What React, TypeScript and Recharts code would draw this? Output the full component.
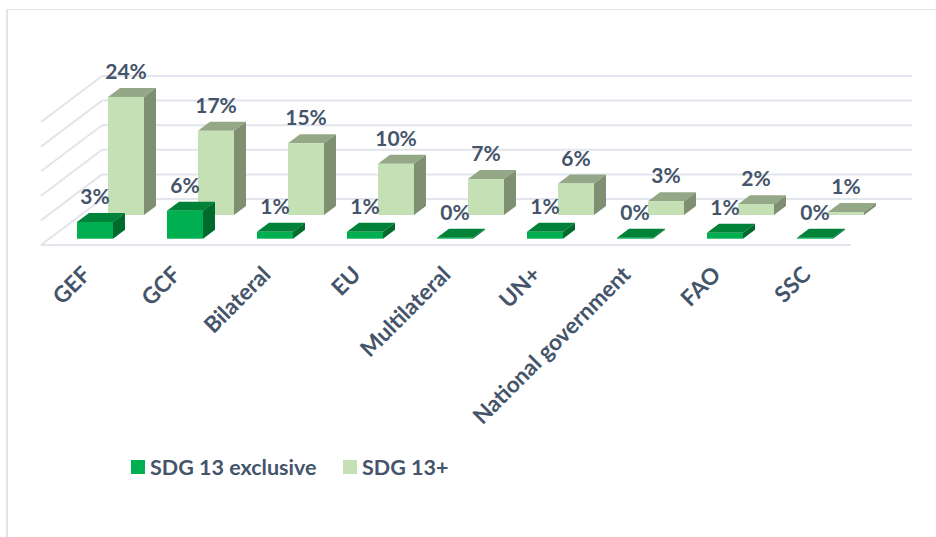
import { BarChart, Bar, XAxis, YAxis, CartesianGrid, Legend, LabelList } from 'recharts';

const CATEGORIES = ['GEF', 'GCF', 'Bilateral', 'EU', 'Multilateral', 'UN+', 'National government', 'FAO', 'SSC'];
const EXCLUSIVE = [3.4, 5.7, 1.4, 1.4, 0.2, 1.4, 0.2, 1.2, 0.2];
const PLUS = [24, 17.1, 14.6, 10.4, 7.3, 6.4, 2.8, 2.2, 0.6];
const Y_TICKS = [0, 5, 10, 15, 20, 25];

const TEXT_COLOR = '#44546A';
const GRID_COLOR = '#E2E5EB';
const FONT = 'Lato, sans-serif';

// 3D look: how far the floor recedes, and each row's place on that floor
const DEPTH = { dx: 61, dy: -46 };
const CAP = { dx: 12, dy: -9 };
const ROW_EXCLUSIVE = { dx: 9, dy: -6.3 };
const ROW_PLUS = { dx: 40, dy: -30 };

const data = CATEGORIES.map((name, i) => ({ name, exclusive: EXCLUSIVE[i], plus: PLUS[i] }));

function box3d(row: { dx: number; dy: number }, front: string, top: string, side: string) {
  return (props: any) => {
    const x = props.x + row.dx;
    const y = props.y + row.dy;
    const w = props.width;
    const h = props.height;
    const { dx, dy } = CAP;
    return (
      <g>
        <polygon points={`${x},${y} ${x + dx},${y + dy} ${x + w + dx},${y + dy} ${x + w},${y}`} fill={top} />
        <polygon points={`${x + w},${y} ${x + w + dx},${y + dy} ${x + w + dx},${y + h + dy} ${x + w},${y + h}`} fill={side} />
        <rect x={x} y={y} width={w} height={h} fill={front} />
      </g>
    );
  };
}

function valueLabel(row: { dx: number; dy: number }) {
  return (props: any) => (
    <text
      x={props.x + props.width / 2 + row.dx}
      y={props.y + row.dy - 18}
      textAnchor="middle"
      fontFamily={FONT}
      fontWeight={700}
      fontSize={21}
      fill={TEXT_COLOR}
    >
      {`${Math.round(props.value)}%`}
    </text>
  );
}

function GridLine(props: any) {
  const { x1, x2, y1 } = props;
  const backY = y1 + DEPTH.dy;
  return (
    <g stroke={GRID_COLOR} strokeWidth={2} fill="none">
      <line x1={x1} y1={y1} x2={x1 + DEPTH.dx} y2={backY} />
      <line x1={x1 + DEPTH.dx} y1={backY} x2={x2 + DEPTH.dx} y2={backY} />
      {y1 > 240 && <line x1={x1} y1={y1} x2={x2} y2={y1} />}
    </g>
  );
}

function CategoryTick({ x, y, payload }: any) {
  return (
    <text
      x={x + 6}
      y={y + 23}
      transform={`rotate(-45 ${x + 6} ${y + 23})`}
      textAnchor="end"
      fontFamily={FONT}
      fontWeight={700}
      fontSize={22.5}
      fill={TEXT_COLOR}
    >
      {payload.value}
    </text>
  );
}

const legendItems = [
  { name: 'SDG 13 exclusive', color: '#00B050', width: 212 },
  { name: 'SDG 13+', color: '#C5E0B4', width: 120 },
];

function ChartLegend() {
  return (
    <div style={{ display: 'flex', fontFamily: FONT, fontWeight: 700, fontSize: 21.5, color: TEXT_COLOR, whiteSpace: 'nowrap' }}>
      {legendItems.map((item) => (
        <div key={item.name} style={{ display: 'flex', alignItems: 'center', width: item.width }}>
          <span style={{ width: 14, height: 14, background: item.color, marginRight: 5 }} />
          <span>{item.name}</span>
        </div>
      ))}
    </div>
  );
}

export default function App() {
  return (
    <div style={{ position: 'absolute', left: 0, top: 0, width: 936, height: 537, background: '#fff', overflow: 'hidden' }}>
      <div
        style={{
          position: 'absolute',
          left: 6,
          top: 9,
          width: 930,
          height: 528,
          boxSizing: 'border-box',
          borderLeft: '2px solid #E0E5E9',
          borderTop: '1px solid #E4E7EC',
        }}
      />
      <BarChart
        width={936}
        height={537}
        data={data}
        barSize={36}
        barGap={-36}
        margin={{ top: 122, right: 85, bottom: 92, left: 41 }}
        style={{ position: 'absolute', left: 0, top: 0 }}
      >
        <CartesianGrid vertical={false} horizontal={GridLine} />
        <XAxis dataKey="name" interval={0} height={200} axisLine={false} tickLine={false} tick={CategoryTick} />
        <YAxis hide domain={[0, 25]} ticks={Y_TICKS} />
        <Legend
          verticalAlign="middle"
          content={ChartLegend}
          wrapperStyle={{ left: 131, top: 454, width: 400 }}
        />
        <Bar
          dataKey="plus"
          name="SDG 13+"
          isAnimationActive={false}
          shape={box3d(ROW_PLUS, '#C5E0B4', '#94A888', '#7F8F72')}
        >
          <LabelList dataKey="plus" content={valueLabel(ROW_PLUS)} />
        </Bar>
        <Bar
          dataKey="exclusive"
          name="SDG 13 exclusive"
          isAnimationActive={false}
          shape={box3d(ROW_EXCLUSIVE, '#00B050', '#008238', '#006B2D')}
        >
          <LabelList dataKey="exclusive" content={valueLabel(ROW_EXCLUSIVE)} />
        </Bar>
      </BarChart>
    </div>
  );
}
